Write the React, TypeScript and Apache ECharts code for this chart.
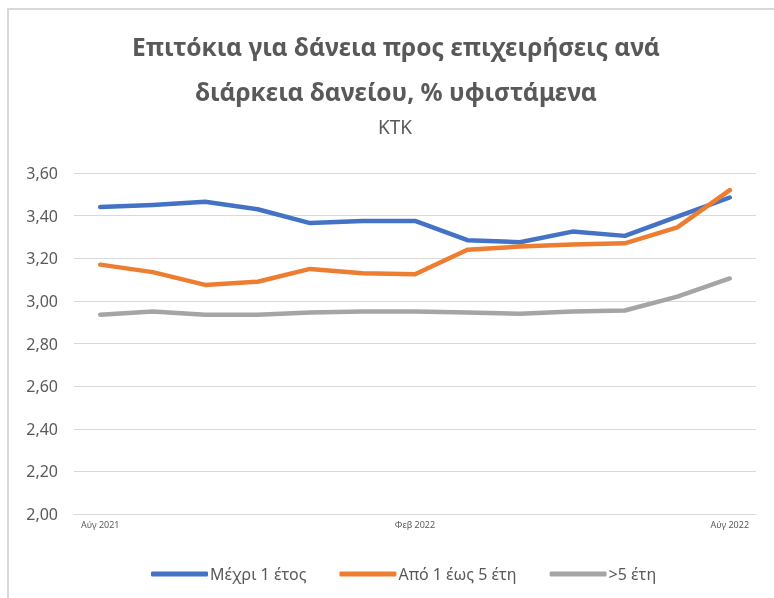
import React, { useEffect, useRef } from "react";
import * as echarts from "echarts";

const categories = [
  "Αύγ 2021", "Σεπ 2021", "Οκτ 2021", "Νοε 2021", "Δεκ 2021", "Ιαν 2022", "Φεβ 2022",
  "Μαρ 2022", "Απρ 2022", "Μαϊ 2022", "Ιουν 2022", "Ιουλ 2022", "Αύγ 2022",
];
const upTo1Year = [3.44, 3.45, 3.465, 3.43, 3.365, 3.375, 3.375, 3.285, 3.275, 3.325, 3.305, 3.395, 3.485];
const from1To5Years = [3.17, 3.135, 3.075, 3.09, 3.15, 3.13, 3.125, 3.24, 3.255, 3.265, 3.27, 3.345, 3.52];
const over5Years = [2.935, 2.95, 2.935, 2.935, 2.945, 2.95, 2.95, 2.945, 2.94, 2.95, 2.955, 3.02, 3.105];
const seriesNames = ["Μέχρι 1 έτος", "Από 1 έως 5 έτη", ">5 έτη"];
const titleLines = ["Επιτόκια για δάνεια προς επιχειρήσεις ανά", "διάρκεια δανείου, % υφιστάμενα"];
const subtitle = "ΚΤΚ";

const FONT = "'Noto Sans', sans-serif";
const GREY = "#595959";

export default function App() {
  const ref = useRef<HTMLDivElement>(null);
  useEffect(() => {
    if (!ref.current) return;
    const chart = echarts.init(ref.current, undefined, { renderer: "svg" });
    const colors = ["#4472C4", "#ED7D31", "#A5A5A5"];
    const data = [upTo1Year, from1To5Years, over5Years];
    chart.setOption({
      animation: false,
      textStyle: { fontFamily: FONT },
      grid: { left: 74, right: 18, top: 173, bottom: 84 },
      graphic: [
        { type: "line", shape: { x1: 8, y1: 9, x2: 774, y2: 9 }, style: { stroke: "#d9d9d9", lineWidth: 2 } },
        { type: "line", shape: { x1: 8, y1: 8, x2: 8, y2: 598 }, style: { stroke: "#d9d9d9", lineWidth: 2 } },
        { type: "text", x: 396, y: 46, style: { text: titleLines[0], fill: GREY, font: `bold 24.5px ${FONT}`, textAlign: "center", textVerticalAlign: "middle" } },
        { type: "text", x: 396, y: 91, style: { text: titleLines[1], fill: GREY, font: `bold 24.5px ${FONT}`, textAlign: "center", textVerticalAlign: "middle" } },
        { type: "text", x: 395, y: 127, style: { text: subtitle, fill: GREY, font: `19px ${FONT}`, textAlign: "center", textVerticalAlign: "middle" } },
      ],
      legend: {
        top: 561,
        left: 146,
        icon: "roundRect",
        itemWidth: 57,
        itemHeight: 5,
        itemGap: 33,
        data: seriesNames,
        textStyle: { color: GREY, fontSize: 16, fontFamily: FONT, padding: [0, 0, 0, -3] },
      },
      xAxis: {
        type: "category",
        data: categories,
        boundaryGap: true,
        axisLine: { show: true, lineStyle: { color: "#d9d9d9", width: 1 } },
        axisTick: { show: false },
        axisLabel: {
          interval: (i: number) => i % 6 === 0,
          color: GREY,
          fontSize: 9,
          margin: 6,
          fontFamily: FONT,
        },
      },
      yAxis: {
        type: "value",
        min: 2,
        max: 3.6,
        interval: 0.2,
        axisLine: { show: false },
        axisTick: { show: false },
        splitLine: { lineStyle: { color: "#d9d9d9", width: 1 } },
        axisLabel: {
          color: GREY,
          fontSize: 16,
          margin: 16,
          fontFamily: FONT,
          formatter: (v: number) => v.toFixed(2).replace(".", ","),
        },
      },
      series: seriesNames.map((name, i) => ({
        name,
        type: "line",
        data: data[i],
        symbol: "none",
        lineStyle: { color: colors[i], width: 4.5, cap: "round", join: "round" },
        itemStyle: { color: colors[i] },
      })),
    });
    return () => chart.dispose();
  }, []);
  return <div ref={ref} style={{ position: "fixed", left: 0, top: 0, width: 774, height: 598 }} />;
}
